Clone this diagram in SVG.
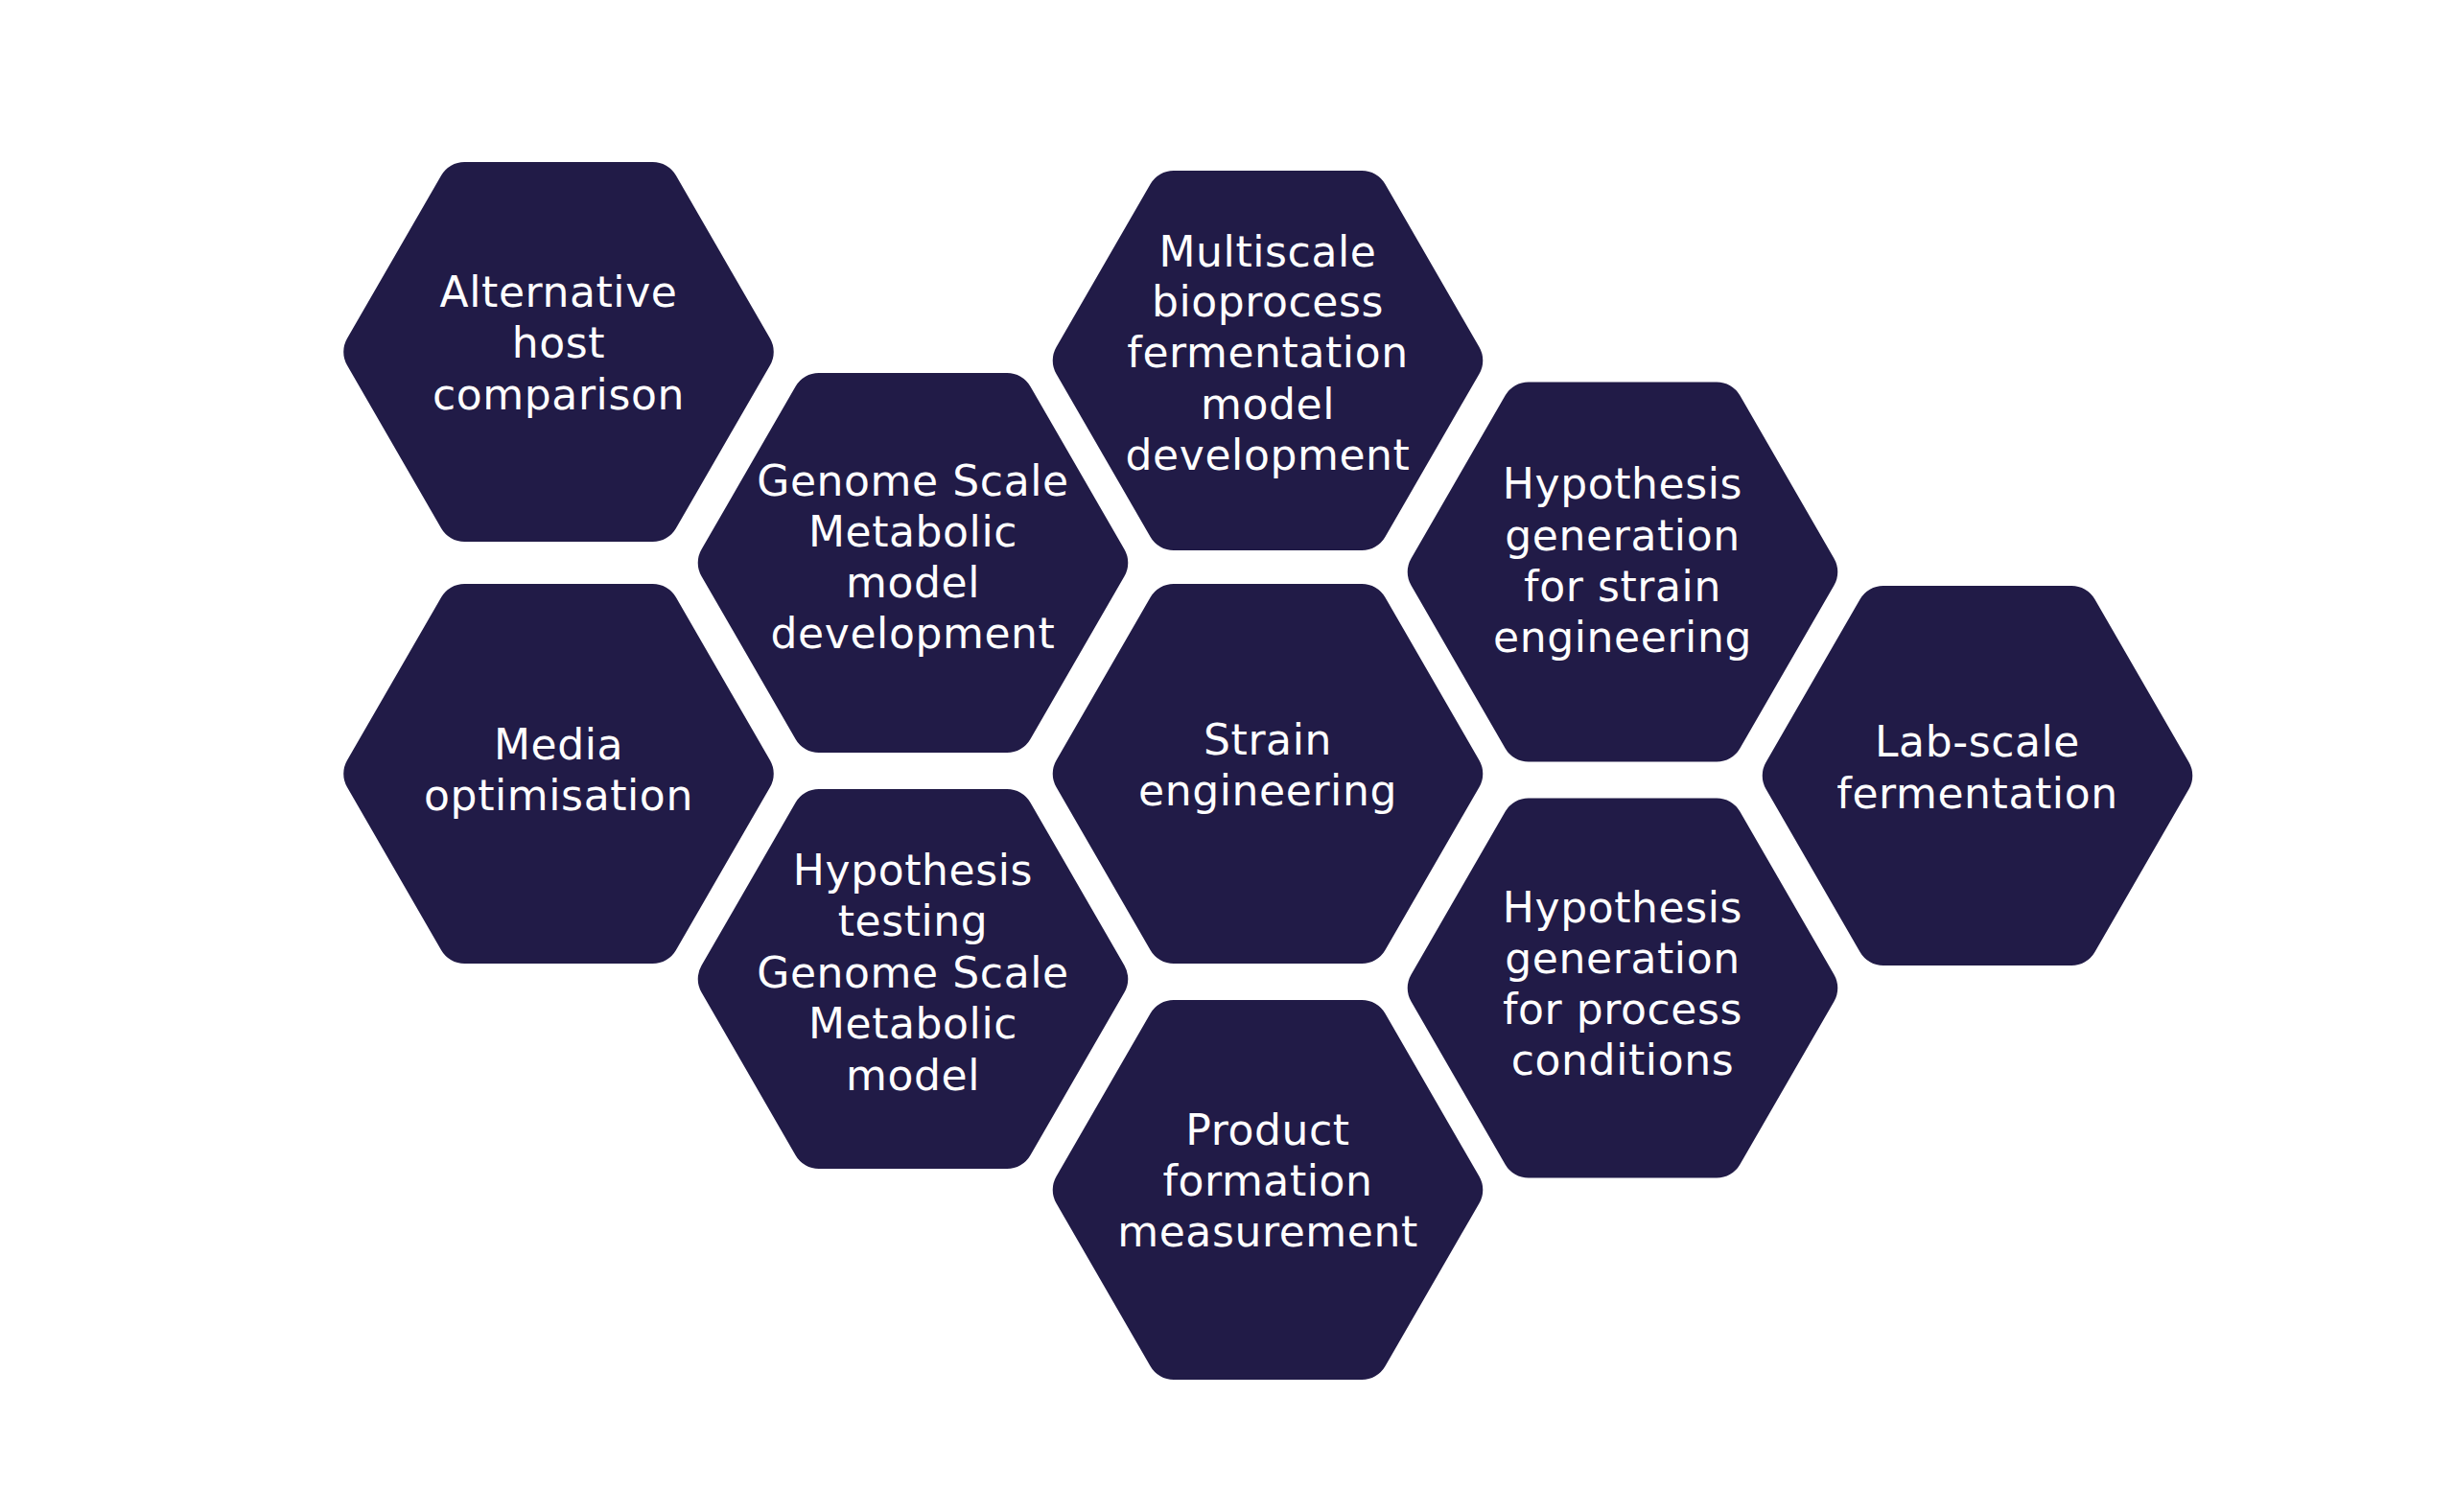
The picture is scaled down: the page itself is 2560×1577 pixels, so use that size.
<svg xmlns="http://www.w3.org/2000/svg" xmlns:xlink="http://www.w3.org/1999/xlink" width="2560" height="1577" viewBox="0 0 2560 1577">
<style>
.hex{fill:#211b47}
.lbl{fill:#ffffff;font-family:"DejaVu Sans","Liberation Sans",sans-serif;font-size:44px;letter-spacing:0.6px;text-anchor:middle}
</style>
<defs>
<path id="hex" d="M220.5,-14.03 A28,28 0 0 1 220.5,14.03 L122.4,183.97 A28,28 0 0 1 98.1,198 L-98.1,198 A28,28 0 0 1 -122.4,183.97 L-220.5,14.03 A28,28 0 0 1 -220.5,-14.03 L-122.4,-183.97 A28,28 0 0 1 -98.1,-198 L98.1,-198 A28,28 0 0 1 122.4,-183.97 Z"/>
</defs>
<rect width="2560" height="1577" fill="#ffffff"/>
<g id="connectors"></g>
<g id="node-alternative-host">
<use href="#hex" xlink:href="#hex" class="hex" x="582.5" y="367"/>
<text class="lbl"><tspan x="582.5" y="320">Alternative</tspan><tspan x="582.5" y="373">host</tspan><tspan x="582.5" y="427">comparison</tspan></text>
</g>
<g id="node-media-optimisation">
<use href="#hex" xlink:href="#hex" class="hex" x="582.5" y="807"/>
<text class="lbl"><tspan x="582.5" y="792">Media</tspan><tspan x="582.5" y="845">optimisation</tspan></text>
</g>
<g id="node-gsm-development">
<use href="#hex" xlink:href="#hex" class="hex" x="952" y="587"/>
<text class="lbl"><tspan x="952" y="517">Genome Scale</tspan><tspan x="952" y="570">Metabolic</tspan><tspan x="952" y="623">model</tspan><tspan x="952" y="676">development</tspan></text>
</g>
<g id="node-hypothesis-testing">
<use href="#hex" xlink:href="#hex" class="hex" x="952" y="1021"/>
<text class="lbl"><tspan x="952" y="923">Hypothesis</tspan><tspan x="952" y="976">testing</tspan><tspan x="952" y="1030">Genome Scale</tspan><tspan x="952" y="1083">Metabolic</tspan><tspan x="952" y="1137">model</tspan></text>
</g>
<g id="node-multiscale">
<use href="#hex" xlink:href="#hex" class="hex" x="1322" y="376"/>
<text class="lbl"><tspan x="1322" y="278">Multiscale</tspan><tspan x="1322" y="330">bioprocess</tspan><tspan x="1322" y="383">fermentation</tspan><tspan x="1322" y="437">model</tspan><tspan x="1322" y="490">development</tspan></text>
</g>
<g id="node-strain-engineering">
<use href="#hex" xlink:href="#hex" class="hex" x="1322" y="807"/>
<text class="lbl"><tspan x="1322" y="787">Strain</tspan><tspan x="1322" y="840">engineering</tspan></text>
</g>
<g id="node-product-formation">
<use href="#hex" xlink:href="#hex" class="hex" x="1322" y="1241"/>
<text class="lbl"><tspan x="1322" y="1194">Product</tspan><tspan x="1322" y="1247">formation</tspan><tspan x="1322" y="1300">measurement</tspan></text>
</g>
<g id="node-hypothesis-strain">
<use href="#hex" xlink:href="#hex" class="hex" x="1692" y="596.5"/>
<text class="lbl"><tspan x="1692" y="520">Hypothesis</tspan><tspan x="1692" y="574">generation</tspan><tspan x="1692" y="627">for strain</tspan><tspan x="1692" y="680">engineering</tspan></text>
</g>
<g id="node-hypothesis-process">
<use href="#hex" xlink:href="#hex" class="hex" x="1692" y="1030.5"/>
<text class="lbl"><tspan x="1692" y="962">Hypothesis</tspan><tspan x="1692" y="1015">generation</tspan><tspan x="1692" y="1068">for process</tspan><tspan x="1692" y="1121">conditions</tspan></text>
</g>
<g id="node-lab-scale">
<use href="#hex" xlink:href="#hex" class="hex" x="2062" y="809"/>
<text class="lbl"><tspan x="2062" y="789">Lab-scale</tspan><tspan x="2062" y="843">fermentation</tspan></text>
</g>
</svg>
